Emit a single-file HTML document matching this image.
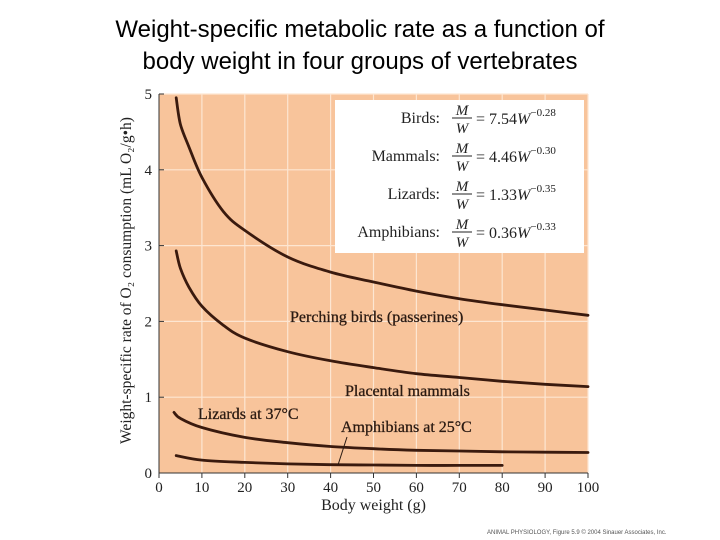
<!DOCTYPE html>
<html><head><meta charset="utf-8"><style>
html,body{margin:0;padding:0;background:#fff;width:720px;height:540px;overflow:hidden}
#title{position:absolute;left:0;top:14px;width:720px;text-align:center;font-family:"Liberation Sans",sans-serif;font-size:24px;line-height:32px;color:#000}
svg{position:absolute;left:0;top:0}
</style></head><body>
<div id="title">Weight-specific metabolic rate as a function of<br>body weight in four groups of vertebrates</div>
<svg id="chart" width="720" height="540" font-family="Liberation Serif, serif"></svg>
<script>
const xTicks=[0,10,20,30,40,50,60,70,80,90,100];
const yTicks=[0,1,2,3,4,5];
const birdsX=[4,5,7,10,15,20,30,40,50,60,70,80,90,100];
const birdsY=[4.95,4.6,4.3,3.9,3.45,3.2,2.85,2.65,2.52,2.4,2.3,2.22,2.15,2.08];
const mammalsX=[4,5,7,10,15,20,30,40,50,60,70,80,90,100];
const mammalsY=[2.93,2.7,2.45,2.2,1.95,1.78,1.6,1.48,1.39,1.31,1.26,1.21,1.17,1.14];
const lizardsX=[3.5,5,10,20,30,40,50,60,70,80,90,100];
const lizardsY=[0.8,0.72,0.6,0.47,0.4,0.35,0.32,0.3,0.29,0.28,0.275,0.27];
const amphX=[4,10,20,30,40,50,60,70,80];
const amphY=[0.23,0.17,0.14,0.12,0.11,0.105,0.1,0.1,0.1];
const NS='http://www.w3.org/2000/svg';
const svg=document.getElementById('chart');
const X0=159,X1=588,Y0=473,Y1=94;
const sx=v=>X0+(v-0)/(100-0)*(X1-X0);
const sy=v=>Y0-(v-0)/(5-0)*(Y0-Y1);
function mk(tag,attrs,parent){const e=document.createElementNS(NS,tag);for(const k in attrs)e.setAttribute(k,attrs[k]);(parent||svg).appendChild(e);return e;}
let e=mk('rect',{x:X0,y:Y1,width:X1-X0,height:Y0-Y1,fill:'#f8c49b'});


xTicks.forEach(t=>{if(t>0){const l=mk('line',{x1:sx(t),x2:sx(t),y1:Y1,y2:Y0,stroke:'#fde6d2','stroke-width':1.2});

}
const tk=mk('line',{x1:sx(t),x2:sx(t),y1:Y0,y2:Y0+5,stroke:'#333','stroke-width':1});


const tx=mk('text',{x:sx(t),y:Y0+19,'text-anchor':'middle','font-size':15,fill:'#222'});tx.textContent=t;

});
yTicks.forEach(t=>{if(t>0){const l=mk('line',{x1:X0,x2:X1,y1:sy(t),y2:sy(t),stroke:'#fde6d2','stroke-width':1.2});

}
const tk=mk('line',{x1:X0,x2:X0+5,y1:sy(t),y2:sy(t),stroke:'#333','stroke-width':1});


const tx=mk('text',{x:X0-7,y:sy(t)+5,'text-anchor':'end','font-size':15,fill:'#222'});tx.textContent=t;

});
e=mk('path',{d:`M${X0} ${Y1}V${Y0}H${X1}`,fill:'none',stroke:'#333','stroke-width':1});


function line(xs,ys,name){const P=xs.map((x,i)=>[sx(x),sy(ys[i])]);
let d='M'+P[0][0].toFixed(1)+' '+P[0][1].toFixed(1);
for(let i=0;i<P.length-1;i++){const p0=P[Math.max(0,i-1)],p1=P[i],p2=P[i+1],p3=P[Math.min(P.length-1,i+2)];
const c1=[p1[0]+(p2[0]-p0[0])/6,p1[1]+(p2[1]-p0[1])/6],c2=[p2[0]-(p3[0]-p1[0])/6,p2[1]-(p3[1]-p1[1])/6];
d+=`C${c1[0].toFixed(1)} ${c1[1].toFixed(1)} ${c2[0].toFixed(1)} ${c2[1].toFixed(1)} ${p2[0].toFixed(1)} ${p2[1].toFixed(1)}`;}
const p=mk('path',{d:d,fill:'none',stroke:'#3a1a0e','stroke-width':2.8,'stroke-linejoin':'round','stroke-linecap':'round'});

}
line(birdsX,birdsY,'birds-curve');
line(mammalsX,mammalsY,'mammals-curve');
line(lizardsX,lizardsY,'lizards-curve');
line(amphX,amphY,'amphibians-curve');
function lab(x,y,t,name){const tx=mk('text',{x:x,y:y,'font-size':16,fill:'#2a1a12',stroke:'#2a1a12','stroke-width':0.3});tx.textContent=t;

}
lab(290,322,'Perching birds (passerines)','label-birds');
lab(345,396,'Placental mammals','label-mammals');
lab(198,419,'Lizards at 37°C','label-lizards');
lab(341,432,'Amphibians at 25°C','label-amphibians');
e=mk('line',{x1:347,y1:437,x2:338,y2:465,stroke:'#2a1a12','stroke-width':1});


const lg=mk('g',{});


mk('rect',{x:335,y:100,width:249,height:153,fill:'#fff'},lg);
const rows=[['Birds:','7.54','−0.28'],['Mammals:','4.46','−0.30'],['Lizards:','1.33','−0.35'],['Amphibians:','0.36','−0.33']];
rows.forEach((r,i)=>{const cy=118+i*38;
const g=mk('g',{},lg);


let t=mk('text',{x:440,y:cy+5,'text-anchor':'end','font-size':16,fill:'#222'},g);t.textContent=r[0];
t=mk('text',{x:462,y:cy-3,'text-anchor':'middle','font-size':15,'font-style':'italic',fill:'#222'},g);t.textContent='M';
mk('line',{x1:452,x2:472,y1:cy,y2:cy,stroke:'#222','stroke-width':1},g);
t=mk('text',{x:462,y:cy+15,'text-anchor':'middle','font-size':15,'font-style':'italic',fill:'#222'},g);t.textContent='W';
t=mk('text',{x:476,y:cy+6,'font-size':16,fill:'#222'},g);t.textContent='= '+r[1];
let s=mk('tspan',{'font-style':'italic'},t);s.textContent='W';
s=mk('tspan',{'font-size':11,dy:-8},t);s.textContent=r[2];});
e=mk('text',{x:sx(50),y:510,'text-anchor':'middle','font-size':16,fill:'#222'});e.textContent='Body weight (g)';


e=mk('text',{x:0,y:0,'text-anchor':'middle','font-size':15.5,fill:'#222',transform:`translate(131,${(Y0+Y1)/2-3}) rotate(-90)`});
e.textContent='Weight-specific rate of O₂ consumption (mL O₂/g•h)';


e=mk('text',{x:487,y:534,'font-size':6,'font-family':'Liberation Sans, sans-serif',fill:'#555'});
e.textContent='ANIMAL PHYSIOLOGY, Figure 5.9 © 2004 Sinauer Associates, Inc.';


</script>
</body></html>
